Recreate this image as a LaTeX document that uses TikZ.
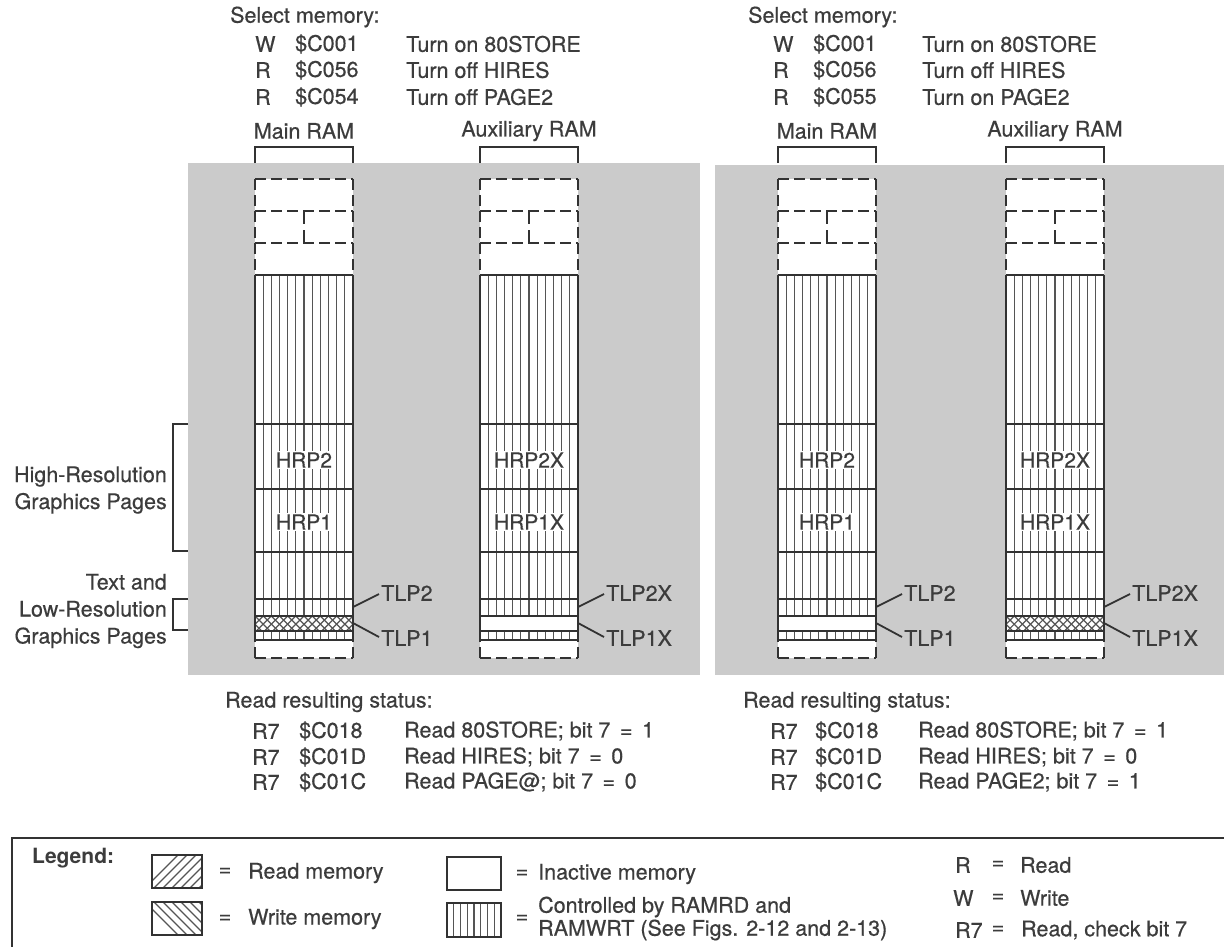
\documentclass[tikz,border=0pt]{standalone}
\usepackage{fontspec}
\setmainfont{TeX Gyre Heros}
\newfontfamily\hv{TeX Gyre Heros}[FakeBold=0.5]
\usetikzlibrary{calc}
\definecolor{bg}{RGB}{203,203,203}
\definecolor{ink}{RGB}{50,50,50}
\definecolor{txt}{RGB}{60,60,60}
\definecolor{hatch}{RGB}{85,85,85}
\tikzset{
  lbl/.style={font=\hv\fontsize{21.5}{25}\selectfont, text=txt, inner sep=0pt, anchor=west},
  lblc/.style={font=\hv\fontsize{21.5}{25}\selectfont, text=txt, inner sep=0pt},
  hrp/.style={font=\hv\fontsize{21}{25}\selectfont, text=txt, fill=white, inner sep=1.5pt},
  side/.style={font=\hv\fontsize{21.5}{27}\selectfont, text=txt, inner sep=0pt, anchor=east, align=right},
  solidln/.style={draw=ink, line width=1.8pt},
  dashln/.style={draw=ink, line width=2pt, dash pattern=on 11pt off 5pt},
  hline/.style={draw=hatch, line width=1.2pt},
}
\newcommand\memcol[4]{% #1 left x, #2 name, #3 crosshatch TLP1 (1/0), #4 label suffix
\begin{scope}[shift={(#1,0)}]
  \fill[white] (0,179) rectangle (98,658);
  \foreach \k in {1,...,11} {
    \draw[hline] ({\k*98/12},275) -- ({\k*98/12},616);
    \draw[hline] ({\k*98/12},631) -- ({\k*98/12},640);
  }
  \ifnum#3=1
  \begin{scope}
    \clip (0,616) rectangle (98,631);
    \foreach \i in {-3,...,15} {
      \draw[hline] ({\i*98/12},616) -- ({\i*98/12+15},631);
      \draw[hline] ({\i*98/12},616) -- ({\i*98/12-15},631);
    }
  \end{scope}
  \fi
  \draw[dashln] (0,179) -- (98,179);
  \draw[dashln] (0,179) -- (0,275);
  \draw[dashln] (98,179) -- (98,275);
  \draw[dashln] (0,211) -- (98,211);
  \draw[dashln] (0,243) -- (98,243);
  \draw[dashln, dash pattern=on 13pt off 6pt] (49,211) -- (49,243);
  \draw[dashln] (0,658) -- (98,658);
  \draw[dashln] (0,658) -- (0,640);
  \draw[dashln] (98,658) -- (98,640);
  \draw[solidln] (0,275) -- (0,640);
  \draw[solidln] (98,275) -- (98,640);
  \foreach \yy in {275,424,489,552,599,616,631,640} \draw[solidln] (0,\yy) -- (98,\yy);
  \node[hrp] (#2hrp2) at (49,460) {HRP2#4};
  \node[hrp] (#2hrp1) at (49,522) {HRP1#4};
  \draw[solidln] (0,163) -- (0,147) -- (98,147) -- (98,163);
  \coordinate (#2e2) at (98,607);
  \coordinate (#2e1) at (98,623);
  \node[lbl] (#2tlp2) at (126,593) {TLP2#4};
  \node[lbl] (#2tlp1) at (126,638) {TLP1#4};
  \draw[solidln] (#2e2) -- ($(#2tlp2.west)+(-2,1)$);
  \draw[solidln] (#2e1) -- ($(#2tlp1.west)+(-2,-1)$);
\end{scope}}
\begin{document}
\begin{tikzpicture}[x=1pt,y=-1pt]
\useasboundingbox (0,0) rectangle (1224,946);
\fill[white] (0,0) rectangle (1224,946);
% panels
\fill[bg] (188,163) rectangle (700,675);
\fill[bg] (715,165) rectangle (1226,675);
% columns
\memcol{255}{a}{1}{}
\memcol{480}{b}{0}{X}
\memcol{778}{c}{0}{}
\memcol{1006}{d}{1}{X}
% RAM labels
\node[lblc] (amain) at (304,131) {Main RAM};
\node[lblc] (baux) at (529,131) {Auxiliary RAM};
\node[lblc] (cmain) at (827,131) {Main RAM};
\node[lblc] (daux) at (1055,131) {Auxiliary RAM};
% side brackets
\draw[solidln] (188,424) -- (173,424) -- (173,551) -- (188,551);
\draw[solidln] (188,599) -- (173,599) -- (173,630) -- (188,630);
\node[side] (hires) at (167,490) {High-Resolution\\Graphics Pages};
\node[side] (lores) at (167,611) {Text and\\Low-Resolution\\Graphics Pages};
% select memory left
\node[lbl] (sel1) at (230,17) {Select memory:};
\node[lbl] (s1a) at (255,44) {W};
\node[lbl] (s1b) at (295,44) {\$C001};
\node[lbl] (s1c) at (406,44) {Turn on 80STORE};
\node[lbl] (s2a) at (255,70) {R};
\node[lbl] (s2b) at (295,70) {\$C056};
\node[lbl] (s2c) at (406,70) {Turn off HIRES};
\node[lbl] (s3a) at (255,97) {R};
\node[lbl] (s3b) at (295,97) {\$C054};
\node[lbl] (s3c) at (406,97) {Turn off PAGE2};
% select memory right
\node[lbl] (sel2) at (748,17) {Select memory:};
\node[lbl] (t1a) at (773,44) {W};
\node[lbl] (t1b) at (813,44) {\$C001};
\node[lbl] (t1c) at (922,44) {Turn on 80STORE};
\node[lbl] (t2a) at (773,70) {R};
\node[lbl] (t2b) at (813,70) {\$C056};
\node[lbl] (t2c) at (922,70) {Turn off HIRES};
\node[lbl] (t3a) at (773,97) {R};
\node[lbl] (t3b) at (813,97) {\$C055};
\node[lbl] (t3c) at (922,97) {Turn on PAGE2};
% status left
\node[lbl] (st1) at (225,702) {Read resulting status:};
\node[lbl] (u1a) at (252,731) {R7};
\node[lbl] (u1b) at (299,731) {\$C018};
\node[lbl] (u1c) at (404,731) {Read 80STORE; bit 7 \,=\, 1};
\node[lbl] (u2a) at (252,757) {R7};
\node[lbl] (u2b) at (299,757) {\$C01D};
\node[lbl] (u2c) at (404,757) {Read HIRES; bit 7 \,=\, 0};
\node[lbl] (u3a) at (252,782) {R7};
\node[lbl] (u3b) at (299,782) {\$C01C};
\node[lbl] (u3c) at (404,782) {Read PAGE@; bit 7 \,=\, 0};
% status right
\node[lbl] (st2) at (743,702) {Read resulting status:};
\node[lbl] (v1a) at (770,731) {R7};
\node[lbl] (v1b) at (815,731) {\$C018};
\node[lbl] (v1c) at (918,731) {Read 80STORE; bit 7 \,=\, 1};
\node[lbl] (v2a) at (770,757) {R7};
\node[lbl] (v2b) at (815,757) {\$C01D};
\node[lbl] (v2c) at (918,757) {Read HIRES; bit 7 \,=\, 0};
\node[lbl] (v3a) at (770,782) {R7};
\node[lbl] (v3b) at (815,782) {\$C01C};
\node[lbl] (v3c) at (918,782) {Read PAGE2; bit 7 \,=\, 1};
% legend
\draw[draw=ink, line width=2pt] (12,838) rectangle (1232,960);
\node[lbl, font=\fontsize{21}{25}\selectfont\bfseries] (leg) at (32,858) {Legend:};
% read icon
\begin{scope}
  \clip (152,855) rectangle (202,888);
  \foreach \i in {0,...,10} \draw[hline] ({145+\i*9},888) -- ({145+\i*9+33},855);
\end{scope}
\draw[solidln] (152,855) rectangle (202,888);
\node[lblc] (eq1) at (225,872) {=};
\node[lbl] (rm) at (248,873) {Read memory};
% write icon
\begin{scope}
  \clip (152,902) rectangle (202,935);
  \foreach \i in {0,...,10} \draw[hline] ({145+\i*9},902) -- ({145+\i*9+33},935);
\end{scope}
\draw[solidln] (152,902) rectangle (202,935);
\node[lblc] (eq2) at (225,919) {=};
\node[lbl] (wm) at (248,919) {Write memory};
% inactive icon
\draw[solidln, fill=white] (447,857) rectangle (501,890);
\node[lblc] (eq3) at (522,874) {=};
\node[lbl] (im) at (538,874) {Inactive memory};
% controlled icon
\foreach \k in {1,...,7} \draw[hline] ({447+\k*54/8},903) -- ({447+\k*54/8},937);
\draw[solidln] (447,903) rectangle (501,937);
\node[lblc] (eq4) at (522,919) {=};
\node[lbl] (cm1) at (538,907) {Controlled by RAMRD and};
\node[lbl] (cm2) at (538,930) {RAMWRT (See Figs. 2-12 and 2-13)};
% abbreviations
\node[lbl] (ka) at (955,865) {R};
\node[lblc] (keq1) at (998,865) {=};
\node[lbl] (kb) at (1020,865) {Read};
\node[lbl] (kc) at (953,898) {W};
\node[lblc] (keq2) at (998,898) {=};
\node[lbl] (kd) at (1020,898) {Write};
\node[lbl] (ke) at (955,930) {R7};
\node[lblc] (keq3) at (998,930) {=};
\node[lbl] (kf) at (1021,930) {Read, check bit 7};
\end{tikzpicture}
\end{document}
